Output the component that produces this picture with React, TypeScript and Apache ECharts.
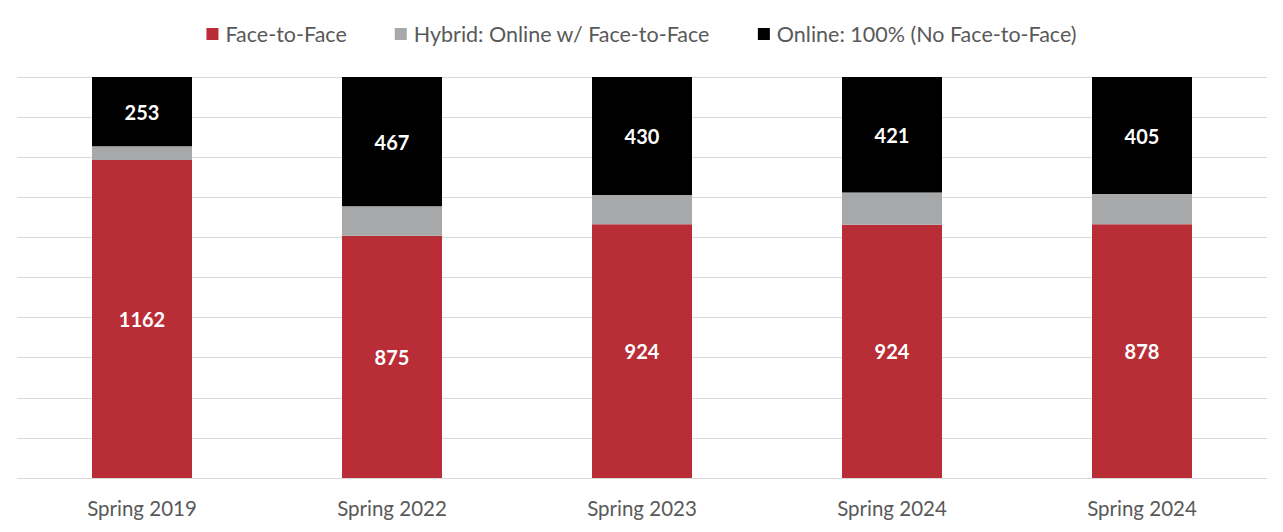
import React, { useEffect, useRef } from 'react';
import * as echarts from 'echarts';

// categories and raw counts
const terms = ['Spring 2019', 'Spring 2022', 'Spring 2023', 'Spring 2024', 'Spring 2024'];
const faceToFace = [1162, 875, 924, 924, 878];
const hybrid = [50, 107, 106, 118, 104];
const online = [253, 467, 430, 421, 405];

const seriesNames = ['Face-to-Face', 'Hybrid: Online w/ Face-to-Face', 'Online: 100% (No Face-to-Face)'];
const colors = ['#B92D37', '#A7A8AA', '#000000'];

const FONT = 'Lato, "Open Sans", sans-serif';

// share of each term's total, in percent
const toPercent = (arr: number[]) =>
  arr.map((v, i) => (v / (faceToFace[i] + hybrid[i] + online[i])) * 100);

const App: React.FC = () => {
  const chartRef = useRef<HTMLDivElement>(null);

  useEffect(() => {
    if (!chartRef.current) return;
    const chart = echarts.init(chartRef.current, undefined, { renderer: 'svg' });

    const raw = [faceToFace, hybrid, online];

    const series = raw.map((arr, idx) => ({
      name: seriesNames[idx],
      type: 'bar',
      stack: 'total',
      barWidth: '40%',
      data: toPercent(arr),
      itemStyle: { color: colors[idx] },
      label: {
        show: idx !== 1,
        position: 'inside',
        color: '#fff',
        fontWeight: 'bold',
        fontSize: 20,
        fontFamily: FONT,
        formatter: (p: any) => String(arr[p.dataIndex]),
      },
    }));

    chart.setOption({
      animation: false,
      legend: {
        top: 18,
        left: 'center',
        itemWidth: 12,
        itemHeight: 12,
        itemGap: 48,
        icon: 'rect',
        textStyle: { fontSize: 21.5, color: '#595959', fontFamily: FONT, padding: [0, 0, 0, 2] },
        data: seriesNames,
      },
      grid: { left: 17, right: 16, top: 77, bottom: 54 },
      xAxis: {
        type: 'category',
        data: terms,
        axisLine: { show: false },
        axisTick: { show: false },
        axisLabel: { fontSize: 20.5, color: '#595959', fontFamily: FONT, margin: 19 },
      },
      yAxis: {
        type: 'value',
        min: 0,
        max: 100,
        interval: 10,
        axisLabel: { show: false },
        axisLine: { show: false },
        axisTick: { show: false },
        splitLine: { lineStyle: { color: '#D9D9D9', width: 1 } },
      },
      series,
    });

    return () => {
      chart.dispose();
    };
  }, []);

  return <div ref={chartRef} style={{ width: 1283, height: 532, margin: -8 }} />;
};

export default App;
